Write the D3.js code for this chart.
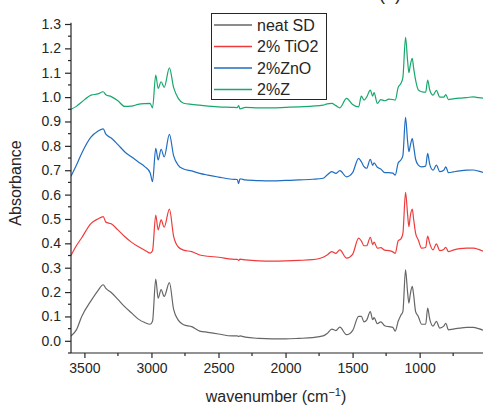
<!DOCTYPE html>
<html>
<head>
<meta charset="utf-8">
<script src="https://cdn.jsdelivr.net/npm/d3@7"></script>
<style>
  body { margin: 0; background: #fff; }
  text { font-family: 'Liberation Sans', Arial, sans-serif; fill: #262626; }
  .eje path, .eje line { stroke: #262626; stroke-width: 1.2px; }
</style>
</head>
<body>
<div id="graf"></div>
<script>
// I. Datos

wavenumber = [3600, 3560, 3520, 3450, 3400, 3360, 3340, 3300, 3250, 3200, 3150, 3100, 3050, 3010, 2992,
  2968, 2950, 2928, 2905, 2866, 2835, 2800, 2760, 2700, 2640, 2580, 2500, 2400, 2360, 2350, 2340, 2300,
  2200, 2100, 2000, 1900, 1800, 1720, 1690, 1655, 1625, 1595, 1545, 1500, 1455, 1435, 1415, 1395, 1368,
  1350, 1340, 1315, 1290, 1260, 1230, 1200, 1182, 1160, 1140, 1125, 1105, 1090, 1080, 1070, 1055, 1045,
  1030, 1010, 985, 955, 940, 925, 900, 875, 850, 820, 805, 785, 750, 700, 650, 600, 560, 520]

neatSD = [0.02, 0.045, 0.10, 0.165, 0.205, 0.23, 0.215, 0.198, 0.17, 0.14, 0.115, 0.09, 0.075, 0.068, 0.08,
  0.253, 0.175, 0.21, 0.182, 0.239, 0.13, 0.085, 0.066, 0.058, 0.04, 0.035, 0.028, 0.02, 0.02, 0.018, 0.02, 0.015,
  0.01, 0.008, 0.008, 0.01, 0.013, 0.02, 0.03, 0.048, 0.042, 0.056, 0.025, 0.042, 0.10, 0.10, 0.078, 0.085, 0.12,
  0.087, 0.095, 0.07, 0.078, 0.062, 0.058, 0.055, 0.04, 0.08, 0.105, 0.12, 0.291, 0.2, 0.155, 0.19, 0.223, 0.19,
  0.12, 0.10, 0.068, 0.068, 0.134, 0.09, 0.06, 0.08, 0.052, 0.06, 0.072, 0.045, 0.048, 0.052, 0.055, 0.055, 0.05, 0.042]

tio2 = [0.35, 0.39, 0.423, 0.482, 0.50, 0.51, 0.487, 0.48, 0.455, 0.428, 0.405, 0.387, 0.372, 0.36, 0.37,
  0.516, 0.455, 0.496, 0.466, 0.54, 0.43, 0.385, 0.372, 0.366, 0.352, 0.347, 0.343, 0.335, 0.334, 0.33, 0.335, 0.332,
  0.328, 0.327, 0.328, 0.33, 0.333, 0.343, 0.352, 0.366, 0.359, 0.373, 0.339, 0.355, 0.421, 0.41, 0.39, 0.39, 0.425,
  0.395, 0.405, 0.38, 0.382, 0.372, 0.37, 0.365, 0.359, 0.41, 0.418, 0.44, 0.609, 0.52, 0.468, 0.51, 0.54, 0.50,
  0.441, 0.414, 0.38, 0.383, 0.43, 0.40, 0.373, 0.398, 0.37, 0.375, 0.384, 0.366, 0.372, 0.378, 0.38, 0.38, 0.375, 0.366]

zno = [0.675, 0.72, 0.77, 0.837, 0.86, 0.87, 0.848, 0.832, 0.805, 0.776, 0.755, 0.735, 0.715, 0.69, 0.653,
  0.79, 0.742, 0.786, 0.755, 0.847, 0.76, 0.72, 0.705, 0.697, 0.687, 0.68, 0.672, 0.663, 0.662, 0.645, 0.665, 0.66,
  0.657, 0.656, 0.658, 0.66, 0.663, 0.667, 0.68, 0.694, 0.687, 0.698, 0.673, 0.69, 0.749, 0.735, 0.715, 0.708, 0.745,
  0.72, 0.73, 0.712, 0.705, 0.69, 0.69, 0.688, 0.68, 0.73, 0.742, 0.76, 0.917, 0.82, 0.776, 0.80, 0.83, 0.80,
  0.745, 0.721, 0.714, 0.717, 0.769, 0.725, 0.70, 0.721, 0.694, 0.70, 0.714, 0.69, 0.693, 0.697, 0.70, 0.701, 0.696, 0.69]

z2 = [0.95, 0.962, 0.98, 1.008, 1.013, 1.022, 1.01, 1.002, 0.985, 0.962, 0.963, 0.97, 0.973, 0.974, 0.956,
  1.09, 1.036, 1.063, 1.04, 1.12, 1.04, 0.995, 0.975, 0.97, 0.967, 0.963, 0.96, 0.958, 0.957, 0.965, 0.952, 0.958,
  0.956, 0.956, 0.958, 0.96, 0.963, 0.967, 0.972, 0.974, 0.965, 0.956, 0.995, 0.97, 0.96, 1.004, 0.988, 1.0, 1.029,
  1.004, 1.018, 0.974, 0.99, 0.985, 0.992, 0.99, 0.988, 1.04, 1.056, 1.08, 1.245, 1.15, 1.10, 1.13, 1.159, 1.12,
  1.07, 1.03, 1.022, 1.02, 1.07, 1.03, 1.008, 1.028, 1.0, 1.0, 1.01, 0.99, 0.993, 0.996, 0.998, 1.001, 0.998, 0.995]

nombres = ['neat SD', '2% TiO2', '2%ZnO', '2%Z']
colores = ['#666666', '#ef3b3b', '#1f6dc0', '#17a86c']
yTicks = [0.0, 0.1, 0.2, 0.3, 0.4, 0.5, 0.6, 0.7, 0.8, 0.9, 1.0, 1.1, 1.2, 1.3]
xTicks = [3500, 3000, 2500, 2000, 1500, 1000]

// II. Configuracion

ancho_total = 483
alto_total = 409
margins = { top: 24, left: 71, right: 0, bottom: 56 }

svg = d3.select('#graf').append('svg')
        .attr('width', ancho_total)
        .attr('height', alto_total)

x = d3.scaleLinear()
        .domain([3600, 520])
        .range([margins.left, ancho_total + 1])

y = d3.scaleLinear()
        .domain([-0.05, 1.3])
        .range([alto_total - margins.bottom, margins.top])

// III. Lineas

series = [neatSD, tio2, zno, z2]

linea = d3.line()
        .x((d, i) => x(wavenumber[i]))
        .y(d => y(d))
        .curve(d3.curveMonotoneX)

svg.append('clipPath').attr('id', 'clip')
    .append('rect')
    .attr('x', margins.left).attr('y', 0)
    .attr('width', ancho_total - margins.left).attr('height', y(-0.05))

svg.append('g')
    .attr('clip-path', 'url(#clip)')
    .selectAll('path')
    .data(d3.range(series.length))
    .enter()
    .append('path')
    .attr('d', k => linea(series[k]))
    .attr('fill', 'none')
    .attr('stroke', k => colores[k])
    .attr('stroke-width', 1.2)

// IV. Ejes

xMinor = d3.range(3250, 520, -500)
yMinor = d3.range(-0.05, 1.3, 0.1)

xAxisGroup = svg.append('g')
        .attr('class', 'eje')
        .attr('transform', `translate(0, ${ y(-0.05) })`)
xAxisGroup.call(d3.axisBottom(x).tickValues(xTicks).tickFormat(d3.format('d')).tickSize(5).tickPadding(5).tickSizeOuter(0))
xAxisGroup.selectAll('text').style('font-size', '14px')
xAxisGroup.call(g => g.select('.domain').attr('d', `M${ margins.left },0H${ ancho_total }`))
xAxisGroup.selectAll('.menor').data(xMinor).enter().append('line')
        .attr('x1', d => x(d)).attr('x2', d => x(d))
        .attr('y1', 0).attr('y2', 3)

yAxisGroup = svg.append('g')
        .attr('class', 'eje')
        .attr('transform', `translate(${ margins.left }, 0)`)
yAxisGroup.call(d3.axisLeft(y).tickValues(yTicks).tickFormat(d3.format('.1f')).tickSize(6).tickPadding(4).tickSizeOuter(0))
yAxisGroup.selectAll('text').style('font-size', '14px')
yAxisGroup.call(g => g.select('.domain').attr('d', `M0,${ y(-0.05) }V${ y(1.305) }`))
yAxisGroup.selectAll('.menor').data(yMinor).enter().append('line')
        .attr('x1', -3).attr('x2', 0)
        .attr('y1', d => y(d)).attr('y2', d => y(d))

// V. Titulos

svg.append('text')
    .attr('x', 276).attr('y', 402)
    .attr('text-anchor', 'middle')
    .style('font-size', '16px')
    .html('wavenumber (cm<tspan dy="-6" font-size="11px">\u22121</tspan><tspan dy="6">)</tspan>')

svg.append('text')
    .attr('transform', 'translate(21, 183) rotate(-90)')
    .attr('text-anchor', 'middle')
    .style('font-size', '16px')
    .text('Absorbance')

// etiqueta del panel, cortada por el borde superior como en la figura
svg.append('text')
    .attr('x', 390).attr('y', 0)
    .attr('text-anchor', 'middle')
    .style('font-size', '18px')
    .text('(a)')

// VI. Leyenda

leyenda = svg.append('g')
leyenda.append('rect')
    .attr('x', 211.5).attr('y', 13.5)
    .attr('width', 115).attr('height', 86)
    .attr('fill', '#fff')
    .attr('stroke', '#262626')
    .attr('stroke-width', 1)

items = leyenda.selectAll('.item')
    .data(d3.range(nombres.length))
    .enter()
    .append('g')
    .attr('class', 'item')
    .attr('transform', k => `translate(0, ${ 25 + k * 21.5 })`)

items.append('line')
    .attr('x1', 214).attr('x2', 252)
    .attr('stroke', k => colores[k])
    .attr('stroke-width', 1.4)

items.append('text')
    .attr('x', 257).attr('y', 5.5)
    .style('font-size', '16px')
    .text(k => nombres[k])
</script>
</body>
</html>
